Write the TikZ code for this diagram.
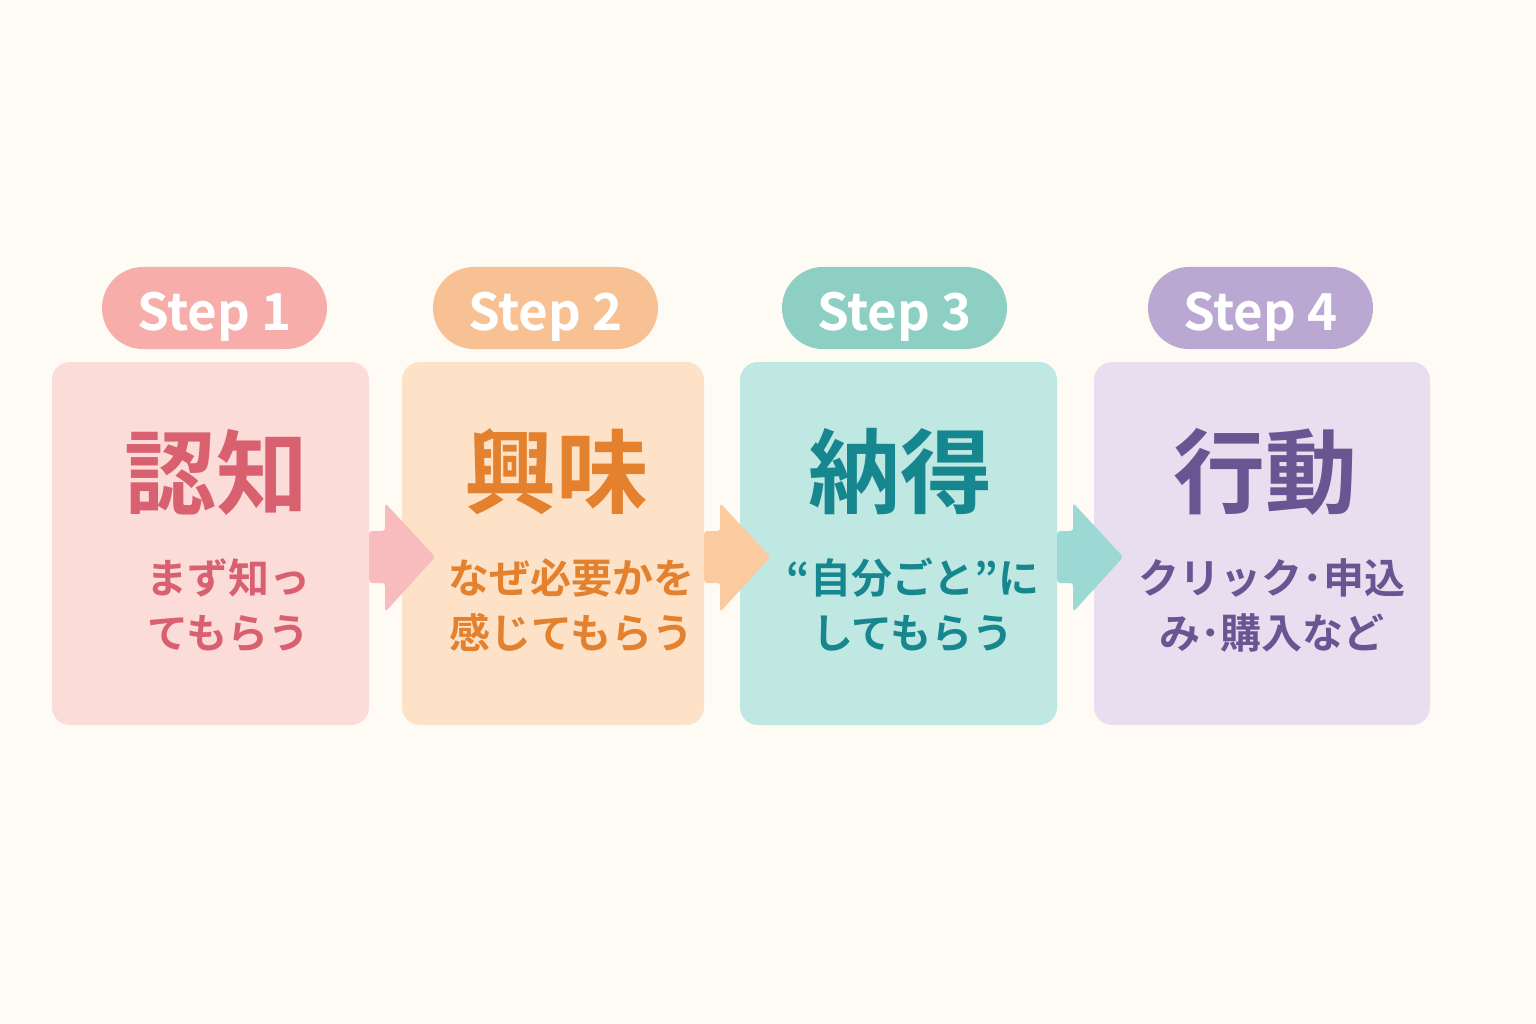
\documentclass[tikz,border=0pt]{standalone}
\usepackage{fontspec}
\newfontfamily\cjkbold{Noto Sans CJK JP Bold}
\usetikzlibrary{calc}

\definecolor{bgcol}{HTML}{FDFBF4}
\definecolor{boxA}{HTML}{FBDCD9}
\definecolor{pillA}{HTML}{F7AEAA}
\definecolor{textA}{HTML}{D9606F}
\definecolor{arrA}{HTML}{F9BCBE}
\definecolor{boxB}{HTML}{FDE2C8}
\definecolor{pillB}{HTML}{F8C193}
\definecolor{textB}{HTML}{E3812F}
\definecolor{arrB}{HTML}{FBCB9F}
\definecolor{boxC}{HTML}{BFE8E2}
\definecolor{pillC}{HTML}{8ECFC3}
\definecolor{textC}{HTML}{16878F}
\definecolor{arrC}{HTML}{9CD9D4}
\definecolor{boxD}{HTML}{E8DEF0}
\definecolor{pillD}{HTML}{BBA8D2}
\definecolor{textD}{HTML}{6A5492}

\begin{document}
\begin{tikzpicture}[x=1pt, y=-1pt]
        \tikzstyle{stagebox}=[rounded corners=18pt, minimum height=363pt, inner sep=0pt]
        \tikzstyle{pill}=[rounded corners=41pt, minimum width=225pt, minimum height=82pt, inner sep=0pt, text height=44pt, text depth=0pt, text=white, font=\cjkbold\fontsize{51}{51}\selectfont]
        \tikzstyle{title}=[font=\cjkbold\fontsize{92}{92}\selectfont]
        \tikzstyle{sub}=[font=\cjkbold\fontsize{41}{55}\selectfont, align=center]
        \tikzstyle{flow}=[rounded corners=3pt]

        \fill[bgcol] (0,0) rectangle (1536,1024);

        % boxes
        \node[stagebox, fill=boxA, minimum width=317pt] (b1) at (210.5,543.5) {};
        \node[stagebox, fill=boxB, minimum width=302pt] (b2) at (553,543.5)   {};
        \node[stagebox, fill=boxC, minimum width=317pt] (b3) at (898.5,543.5) {};
        \node[stagebox, fill=boxD, minimum width=336pt] (b4) at (1262,543.5)  {};

        % step labels
        \node[pill, fill=pillA] (p1) at (214.5,308)  {Step 1};
        \node[pill, fill=pillB] (p2) at (545.5,308)  {Step 2};
        \node[pill, fill=pillC] (p3) at (894.5,308)  {Step 3};
        \node[pill, fill=pillD] (p4) at (1260.5,308) {Step 4};

        % arrows
        \foreach \b/\c in {b1/arrA, b2/arrB, b3/arrC}
            \fill[flow, \c] ($(\b.east)+(0,-12.5)$) -- ++(16,0) -- ++(0,-28)
                -- ($(\b.east)+(66,13.5)$) -- ($(\b.east)+(16,68.5)$)
                -- ++(0,-29) -- ($(\b.east)+(0,39.5)$) -- cycle;

        % titles
        \node[title, text=textA] (t1) at (216,472)  {認知};
        \node[title, text=textB] (t2) at (556,472)  {興味};
        \node[title, text=textC] (t3) at (900,472)  {納得};
        \node[title, text=textD] (t4) at (1265,472) {行動};

        % descriptions
        \node[sub, text=textA] (s1) at (228,605)  {まず知っ\\てもらう};
        \node[sub, text=textB] (s2) at (571,605)  {なぜ必要かを\\感じてもらう};
        \node[sub, text=textC] (s3) at (913,605)  {“自分ごと”に\\してもらう};
        \node[sub, text=textD] (s4) at (1272,605) {クリック･申込\\み･購入など};
    \end{tikzpicture}
\end{document}
